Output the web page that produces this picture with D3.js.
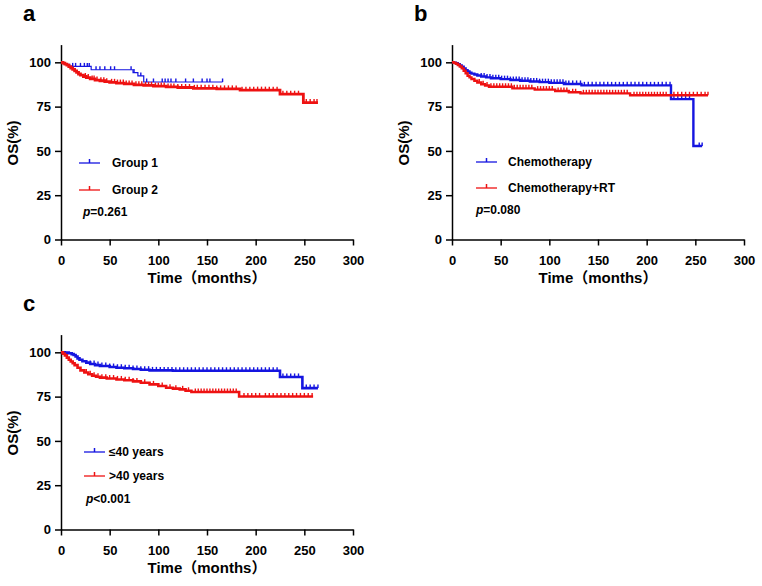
<!DOCTYPE html>
<html>
<head>
<meta charset="utf-8">
<script src="https://cdn.jsdelivr.net/npm/d3@7"></script>
<style>
  body { margin: 0; background: #fff; }
  text { font-family: "Liberation Sans", Arial, "Noto Sans CJK SC", sans-serif; font-weight: bold; fill: #000; }
  .axis path, .axis line { stroke: #000; stroke-width: 1.5px; }
  .axis text { font-size: 13px; font-family: "Liberation Sans", Arial, sans-serif; font-weight: bold; }
</style>
</head>
<body>
<script>
// KM step points: time (months) and OS (%)
const xTicks = [0, 50, 100, 150, 200, 250, 300];
const yTicks = [0, 25, 50, 75, 100];

// panel a
const aG1Time = [0, 3, 9, 31, 74, 79, 85];
const aG1Surv = [100, 98.9, 97.7, 95.8, 94.2, 92.3, 88.9];
const aG1End = 166;
const aG1Cens = [12, 15, 20, 24, 27, 29, 36, 40, 45, 51, 55, 72, 75, 82, 88, 95, 104, 107, 110, 113, 118, 128, 136, 145, 150, 153, 166];
const aG2Time = [0, 2, 4, 6, 8, 10, 12, 14, 16, 18, 20, 23, 26, 30, 35, 40, 45, 50, 57, 65, 75, 85, 95, 108, 120, 136, 160, 184, 225, 249];
const aG2Surv = [100, 99.6, 99, 98.4, 97.6, 96.8, 96, 95.2, 94.3, 93.4, 92.8, 92, 91.4, 90.6, 90, 89.6, 89.1, 88.7, 88.3, 87.8, 87.3, 87, 86.6, 86.1, 85.8, 85.3, 85, 84.3, 82, 77.3];
const aG2End = 264;
const aG2Cens = [25, 28, 32, 34, 37, 41, 44, 47, 52, 55, 58, 61, 64, 67, 70, 73, 77, 80, 83, 87, 90, 93, 97, 100, 103, 106, 110, 113, 116, 120, 124, 128, 132, 137, 140, 144, 148, 152, 156, 160, 164, 168, 172, 176, 180, 186, 190, 194, 198, 202, 206, 210, 214, 218, 222, 228, 232, 236, 240, 244, 252, 256, 260, 263];

// panel b
const bChTime = [0, 2, 4, 6, 8, 10, 12, 14, 16, 18, 20, 23, 26, 30, 35, 40, 50, 60, 70, 80, 90, 100, 115, 133, 225, 248];
const bChSurv = [100, 99.8, 99.5, 99, 98.3, 97.5, 96.6, 95.6, 94.8, 94.1, 93.6, 93.1, 92.6, 92, 91.5, 91, 90.5, 90, 89.6, 89.2, 88.8, 88.4, 87.8, 87, 79.2, 52.8];
const bChEnd = 257;
const bChCens = [30, 33, 36, 39, 42, 45, 48, 51, 54, 57, 60, 63, 66, 69, 72, 75, 78, 81, 84, 87, 90, 93, 96, 99, 102, 105, 108, 111, 114, 117, 120, 124, 128, 132, 136, 140, 144, 148, 152, 156, 160, 164, 168, 172, 176, 180, 184, 188, 192, 196, 200, 204, 208, 212, 216, 220, 224, 228, 232, 236, 240, 244, 254, 257];
const bRtTime = [0, 2, 4, 6, 8, 10, 12, 14, 16, 18, 20, 23, 26, 30, 34, 38, 62, 85, 106, 120, 132, 183];
const bRtSurv = [100, 99.7, 99.2, 98.5, 97.6, 96.6, 95.2, 93.8, 92.4, 91.5, 90.6, 89.6, 88.6, 87.6, 86.9, 86.2, 85.3, 84.6, 83.8, 83.1, 82.5, 81.4];
const bRtEnd = 263;
const bRtCens = [28, 32, 36, 40, 43, 46, 49, 52, 55, 58, 61, 64, 67, 70, 73, 76, 79, 82, 88, 91, 94, 97, 100, 103, 109, 112, 115, 118, 124, 127, 135, 138, 141, 144, 147, 150, 153, 156, 159, 162, 165, 168, 171, 174, 177, 180, 187, 190, 193, 196, 199, 202, 205, 208, 211, 214, 217, 220, 228, 232, 236, 240, 244, 248, 252, 256, 260, 263];

// panel c
const cYoTime = [0, 4, 8, 11, 13, 15, 17, 19, 22, 26, 30, 35, 40, 50, 57, 65, 74, 82, 91, 115, 225, 248];
const cYoSurv = [100, 99.8, 99.5, 99, 98.5, 97.6, 96.6, 95.8, 95, 94.2, 93.4, 92.8, 92.3, 91.7, 91.3, 91, 90.6, 90.2, 89.8, 89.6, 86.1, 79.8];
const cYoEnd = 264;
const cYoCens = [30, 34, 38, 42, 46, 50, 54, 58, 62, 66, 70, 74, 78, 82, 86, 90, 94, 98, 102, 106, 110, 114, 118, 122, 126, 130, 134, 138, 142, 146, 150, 154, 158, 162, 166, 170, 174, 178, 182, 186, 190, 194, 198, 202, 206, 210, 214, 218, 222, 228, 232, 236, 240, 244, 252, 256, 260, 264];
const cOlTime = [0, 2, 4, 6, 8, 10, 12, 14, 17, 20, 24, 28, 32, 36, 40, 47, 57, 65, 74, 82, 91, 100, 108, 115, 122, 128, 134, 183];
const cOlSurv = [100, 99.2, 98.3, 97, 95.8, 94.8, 93.8, 92.8, 91.3, 89.8, 88.6, 87.6, 86.8, 86.2, 85.7, 85.2, 84.7, 84.2, 83.6, 82.8, 81.9, 81, 80, 79.5, 79.1, 78.3, 77.6, 75.1];
const cOlEnd = 259;
const cOlCens = [26, 30, 34, 38, 42, 46, 50, 54, 58, 62, 66, 70, 74, 78, 86, 95, 104, 112, 118, 125, 131, 138, 141, 144, 147, 150, 153, 156, 159, 162, 165, 168, 171, 174, 177, 180, 188, 192, 196, 200, 204, 210, 214, 218, 222, 226, 230, 234, 238, 242, 246, 250, 254, 258];

const blue = '#1515e0';
const red = '#ee1212';

const panels = [
  {letter: 'a', ox: 0, oy: 0, p: '=0.261', leg: {x0: 18, x1: 39, tx: 51, y: [163, 190], px: 22, py: 216},
    series: [
      {name: 'Group 1', t: aG1Time, s: aG1Surv, end: aG1End, cens: aG1Cens, color: blue, w: 1.2},
      {name: 'Group 2', t: aG2Time, s: aG2Surv, end: aG2End, cens: aG2Cens, color: red, w: 2.8}
    ]},
  {letter: 'b', ox: 391, oy: 0, p: '=0.080', leg: {x0: 24, x1: 45, tx: 56, y: [162, 188], px: 24, py: 214},
    series: [
      {name: 'Chemotherapy', t: bChTime, s: bChSurv, end: bChEnd, cens: bChCens, color: blue, w: 2.4},
      {name: 'Chemotherapy+RT', t: bRtTime, s: bRtSurv, end: bRtEnd, cens: bRtCens, color: red, w: 2.4}
    ]},
  {letter: 'c', ox: 0, oy: 290, p: '<0.001', leg: {x0: 23, x1: 44, tx: 48, y: [162, 186], px: 25, py: 213},
    series: [
      {name: '≤40 years', t: cYoTime, s: cYoSurv, end: cYoEnd, cens: cYoCens, color: blue, w: 2.6},
      {name: '>40 years', t: cOlTime, s: cOlSurv, end: cOlEnd, cens: cOlCens, color: red, w: 2.6}
    ]}
];

const svg = d3.select('body').append('svg')
  .attr('width', 762)
  .attr('height', 586);

const x = d3.scaleLinear().domain([0, 300]).range([0, 292]);
const y = d3.scaleLinear().domain([0, 110]).range([239.5, 44.6]);

const line = d3.line()
  .x(function(d) { return x(d[0]); })
  .y(function(d) { return y(d[1]); })
  .curve(d3.curveStepAfter);

function survAt(sr, t) {
  let v = sr.s[0];
  for (let i = 0; i < sr.t.length; i++) {
    if (sr.t[i] <= t) v = sr.s[i];
  }
  return v;
}

panels.forEach(function(pn) {
  const g = svg.append('g')
    .attr('transform', 'translate(' + (pn.ox + 61) + ',' + pn.oy + ')');

  svg.append('text')
    .attr('x', pn.ox + 23)
    .attr('y', pn.oy + 21)
    .style('font-size', '22px')
    .text(pn.letter);

  g.append('g')
    .attr('class', 'axis')
    .attr('transform', 'translate(0,' + y(0) + ')')
    .call(d3.axisBottom(x).tickValues(xTicks).tickSize(6).tickPadding(10).tickSizeOuter(0));

  g.append('g')
    .attr('class', 'axis')
    .call(d3.axisLeft(y).tickValues(yTicks).tickSize(6).tickPadding(4).tickSizeOuter(0));

  g.append('text')
    .attr('x', x(150))
    .attr('y', 283)
    .attr('text-anchor', 'middle')
    .style('font-size', '15px')
    .text('Time（months）');

  g.append('text')
    .attr('transform', 'translate(-48,143) rotate(-90)')
    .attr('dy', '0.36em')
    .attr('text-anchor', 'middle')
    .style('font-size', '15px')
    .text('OS(%)');

  pn.series.forEach(function(sr, i) {
    const pts = sr.t.map(function(t, j) { return [t, sr.s[j]]; });
    pts.push([sr.end, sr.s[sr.s.length - 1]]);
    g.append('path')
      .datum(pts)
      .attr('fill', 'none')
      .attr('stroke', sr.color)
      .attr('stroke-width', sr.w)
      .attr('d', line);

    g.selectAll(null)
      .data(sr.cens)
      .enter().append('line')
      .attr('x1', function(d) { return x(d); })
      .attr('x2', function(d) { return x(d); })
      .attr('y1', function(d) { return y(survAt(sr, d)); })
      .attr('y2', function(d) { return y(survAt(sr, d)) - 3.5; })
      .attr('stroke', sr.color)
      .attr('stroke-width', 1.4);

    // legend
    const ly = pn.leg.y[i];
    g.append('line')
      .attr('x1', pn.leg.x0).attr('x2', pn.leg.x1)
      .attr('y1', ly).attr('y2', ly)
      .attr('stroke', sr.color).attr('stroke-width', 1.3);
    g.append('line')
      .attr('x1', (pn.leg.x0 + pn.leg.x1) / 2).attr('x2', (pn.leg.x0 + pn.leg.x1) / 2)
      .attr('y1', ly).attr('y2', ly - 4)
      .attr('stroke', sr.color).attr('stroke-width', 1.5);
    g.append('text')
      .attr('x', pn.leg.tx)
      .attr('y', ly)
      .attr('dy', '0.36em')
      .style('font-size', '12px')
      .text(sr.name);
  });

  const pt = g.append('text')
    .attr('x', pn.leg.px)
    .attr('y', pn.leg.py)
    .style('font-size', '12px');
  pt.append('tspan').style('font-style', 'italic').text('p');
  pt.append('tspan').text(pn.p);
});
</script>
</body>
</html>
